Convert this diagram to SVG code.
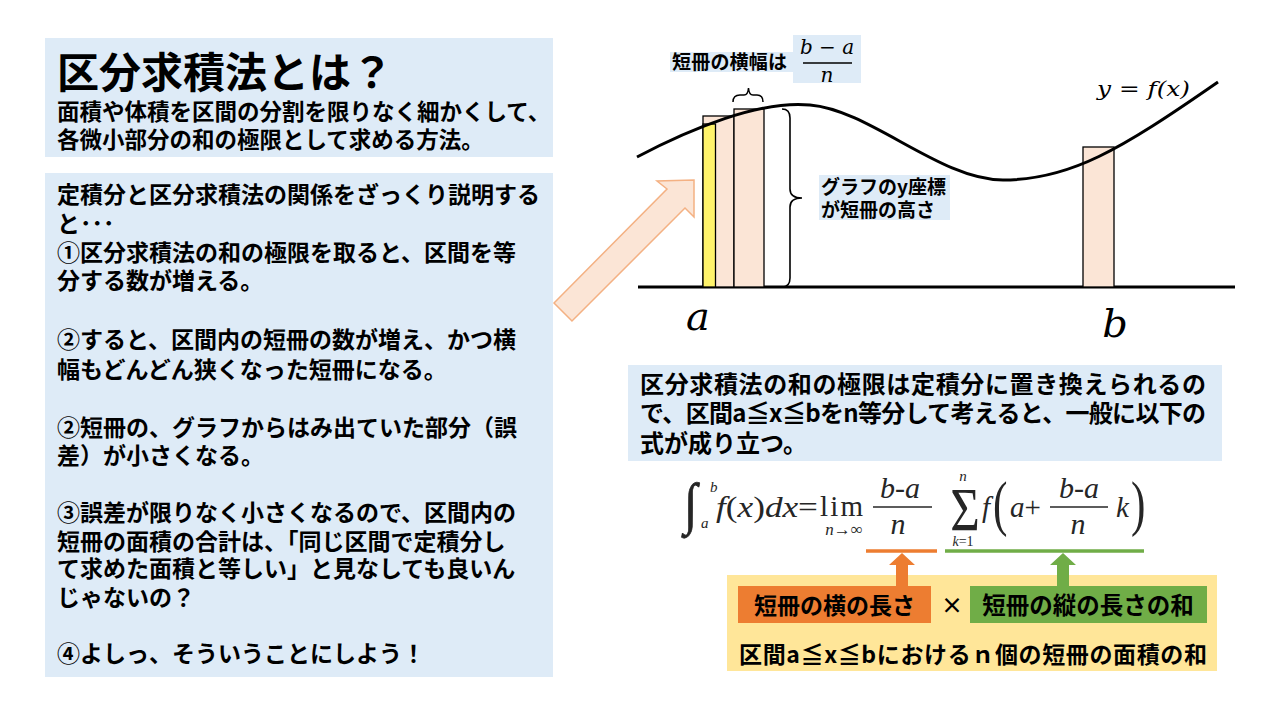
<svg xmlns="http://www.w3.org/2000/svg" width="1280" height="720" viewBox="0 0 1280 720">
<style>
.jp{font-family:'Noto Sans CJK JP','Noto Sans CJK SC',sans-serif;font-weight:700;fill:#000}
.bx{fill:#DEEBF7}
.bar{fill:#FBE5D6;stroke:#000;stroke-width:1.3}
.m{font-family:'Liberation Serif','Times New Roman',serif;font-style:italic;fill:#262626}
.mn{font-style:normal}
.ax{font-family:'DejaVu Serif',serif;font-style:italic;fill:#000}
.fl{stroke:#262626;stroke-width:1.4}
</style>
<rect width="1280" height="720" fill="#fff"/>

<g id="title-box">
<rect class="bx" x="45" y="38" width="508" height="119"/>
<text class="jp" x="57" y="88" font-size="42">区分求積法とは？</text>
<text class="jp" x="57" y="120" font-size="22.5">面積や体積を区間の分割を限りなく細かくして、</text>
<text class="jp" x="57" y="148" font-size="22.5">各微小部分の和の極限として求める方法。</text>
</g>

<g id="explain-box">
<rect class="bx" x="45" y="173" width="508" height="504"/>
<g class="jp" font-size="23">
<text x="57" y="202.5">定積分と区分求積法の関係をざっくり説明する</text>
<text x="57" y="231.5">と･･･</text>
<text x="57" y="260.5">①区分求積法の和の極限を取ると、区間を等</text>
<text x="57" y="289">分する数が増える。</text>
<text x="57" y="348">②すると、区間内の短冊の数が増え、かつ横</text>
<text x="57" y="377.5">幅もどんどん狭くなった短冊になる。</text>
<text x="57" y="435.5">②短冊の、グラフからはみ出ていた部分（誤</text>
<text x="57" y="464">差）が小さくなる。</text>
<text x="57" y="520.5">③誤差が限りなく小さくなるので、区間内の</text>
<text x="57" y="549.5">短冊の面積の合計は、「同じ区間で定積分し</text>
<text x="57" y="577">て求めた面積と等しい」と見なしても良いん</text>
<text x="57" y="605.5">じゃないの？</text>
<text x="57" y="661.5">④よしっ、そういうことにしよう！</text>
</g>
</g>

<g id="graph">
<line x1="638" y1="287" x2="1235" y2="287" stroke="#000" stroke-width="3"/>
<rect class="bar" x="703" y="116" width="31" height="171"/>
<rect x="703" y="124" width="12.5" height="163" fill="#FFF36B" stroke="#000" stroke-width="1.3"/>
<rect class="bar" x="734" y="109" width="30" height="178"/>
<rect class="bar" x="1083" y="147" width="31" height="140"/>
<path d="M637,157 C690,129 760,100 810,105 C870,110 940,180 1003,180 C1070,180 1120,150 1218,82" fill="none" stroke="#000" stroke-width="3"/>
<path d="M733,102 Q733,95 740,95 L744,95 Q748,95 748.5,88 Q749,95 753,95 L757,95 Q763,95 763,102" fill="none" stroke="#000" stroke-width="1.5"/>
<path d="M782,109 Q790,109 790,118 L790,189 Q790,198 802,198 Q790,198 790,207 L790,278 Q790,287 782,287" fill="none" stroke="#000" stroke-width="1.6"/>
<text class="ax" x="698" y="330" font-size="40" text-anchor="middle">a</text>
<text class="ax" x="1115" y="337" font-size="40" text-anchor="middle">b</text>
<text class="ax" x="1097" y="96" font-size="21" textLength="93" lengthAdjust="spacingAndGlyphs">y = f(x)</text>
</g>

<g id="width-label">
<rect class="bx" x="670" y="52" width="124" height="20"/>
<rect class="bx" x="793" y="35" width="68" height="48"/>
<text class="jp" x="672" y="69" font-size="19" textLength="115">短冊の横幅は</text>
<text class="ax" x="827" y="54" font-size="20" text-anchor="middle">b − a</text>
<line x1="803" y1="63" x2="852" y2="63" stroke="#000" stroke-width="1.3"/>
<text class="ax" x="827" y="82" font-size="20" text-anchor="middle">n</text>
</g>

<g id="height-label">
<rect class="bx" x="819" y="175" width="131" height="45"/>
<text class="jp" x="821" y="194" font-size="19">グラフのy座標</text>
<text class="jp" x="821" y="217" font-size="19">が短冊の高さ</text>
</g>

<g id="limit-box">
<rect class="bx" x="628" y="365" width="594" height="96"/>
<text class="jp" x="640" y="393" font-size="24" textLength="566">区分求積法の和の極限は定積分に置き換えられるの</text>
<text class="jp" x="640" y="422" font-size="24" textLength="566">で、区間a≦x≦bをn等分して考えると、一般に以下の</text>
<text class="jp" x="640" y="452" font-size="24">式が成り立つ。</text>
</g>

<g id="formula">
<text class="m mn" transform="translate(684,523) scale(1.1,1.3)" font-size="44" stroke="#262626" stroke-width="0.6">∫</text>
<text class="m" x="710" y="492" font-size="15">b</text>
<text class="m" x="701" y="528" font-size="15">a</text>
<text class="m" x="716" y="517" font-size="29" textLength="102" lengthAdjust="spacingAndGlyphs">f<tspan class="mn">(</tspan>x<tspan class="mn">)</tspan>dx<tspan class="mn">=</tspan></text>
<text class="m mn" x="820" y="516" font-size="29" textLength="43">lim</text>
<text class="m" x="844" y="535" font-size="17" text-anchor="middle">n<tspan class="mn">→∞</tspan></text>
<text class="m" x="900" y="498" font-size="30" text-anchor="middle">b<tspan class="mn">-</tspan>a</text>
<line class="fl" x1="873" y1="507" x2="932" y2="507"/>
<text class="m" x="898" y="534" font-size="30" text-anchor="middle">n</text>
<text class="m mn" transform="translate(965,530) scale(0.82,1)" font-size="62" text-anchor="middle">Σ</text>
<text class="m" x="963" y="481" font-size="15" text-anchor="middle">n</text>
<text class="m" x="963" y="546" font-size="14" text-anchor="middle">k<tspan class="mn">=1</tspan></text>
<text class="m" x="982" y="517" font-size="29">f</text>
<text class="m mn" transform="translate(993,524) scale(0.7,1)" font-size="62">(</text>
<text class="m" x="1010" y="517" font-size="29">a<tspan class="mn">+</tspan></text>
<text class="m" x="1079" y="498" font-size="30" text-anchor="middle">b<tspan class="mn">-</tspan>a</text>
<line class="fl" x1="1050" y1="507" x2="1108" y2="507"/>
<text class="m" x="1078" y="534" font-size="30" text-anchor="middle">n</text>
<text class="m" x="1116" y="517" font-size="29">k</text>
<text class="m mn" transform="translate(1131,524) scale(0.7,1)" font-size="62">)</text>
<line x1="866" y1="551" x2="937" y2="551" stroke="#ED7D31" stroke-width="3.5"/>
<line x1="945" y1="551" x2="1144" y2="551" stroke="#70AD47" stroke-width="3.5"/>
</g>

<g id="area-box">
<rect x="727" y="575" width="490" height="96" fill="#FFE699"/>
<rect x="738" y="586" width="193" height="37" fill="#ED7D31"/>
<rect x="970" y="586" width="237" height="37" fill="#70AD47"/>
<text class="jp" x="834.5" y="614" font-size="23" text-anchor="middle">短冊の横の長さ</text>
<text class="jp" x="952" y="613" font-size="22" text-anchor="middle" font-weight="400">×</text>
<text class="jp" x="1088" y="614" font-size="23.5" text-anchor="middle">短冊の縦の長さの和</text>
<text class="jp" x="739" y="663" font-size="23" textLength="468">区間a≦x≦bにおけるｎ個の短冊の面積の和</text>
</g>

<g id="connectors">
<polygon points="554,303 667,189 657,181 694,180 694,217 685,208 572,321" fill="#FBE5D6" stroke="#F4B183" stroke-width="1.5"/>
<polygon points="896,587 896,565 889,565 902,553 915,565 908,565 908,587" fill="#ED7D31"/>
<polygon points="1057,587 1057,565 1050,565 1063,553 1076,565 1069,565 1069,587" fill="#70AD47"/>
</g>
</svg>
